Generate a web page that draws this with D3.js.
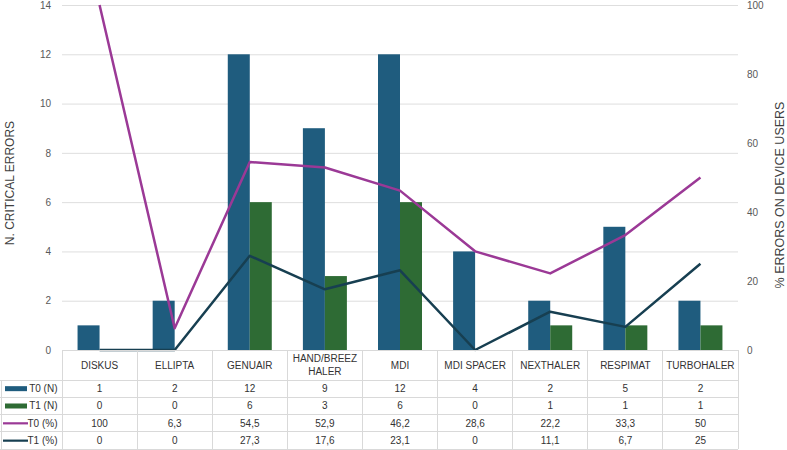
<!DOCTYPE html>
<html>
<head>
<meta charset="utf-8">
<script src="https://cdn.jsdelivr.net/npm/d3@7"></script>
<style>
  body { margin: 0; background: #fff; }
  svg { font-family: "Liberation Sans", Arial, sans-serif; display: block; }
</style>
</head>
<body>
<div id="chart"></div>
<script>
const categories = ["DISKUS", "ELLIPTA", "GENUAIR", "HAND/BREEZ HALER", "MDI", "MDI SPACER", "NEXTHALER", "RESPIMAT", "TURBOHALER"];
const t0N = [1, 2, 12, 9, 12, 4, 2, 5, 2];
const t1N = [0, 0, 6, 3, 6, 0, 1, 1, 1];
const t0Pct = [100, 6.3, 54.5, 52.9, 46.2, 28.6, 22.2, 33.3, 50];
const t1Pct = [0, 0, 27.3, 17.6, 23.1, 0, 11.1, 6.7, 25];
const leftTicks = [0, 2, 4, 6, 8, 10, 12, 14];
const rightTicks = [0, 20, 40, 60, 80, 100];

const width = 787;
const height = 450;
const plot = { left: 62, right: 738, top: 5, bottom: 350 };

const colours = {
    t0N: "#1f5c7e",
    t1N: "#2e6b34",
    t0Pct: "#9b3996",
    t1Pct: "#173f51",
    grid: "#dedede",
    text: "#404040"
};

const series = [
    { name: "T0 (N)", type: "bar", values: t0N, colour: colours.t0N },
    { name: "T1 (N)", type: "bar", values: t1N, colour: colours.t1N },
    { name: "T0 (%)", type: "line", values: t0Pct, colour: colours.t0Pct },
    { name: "T1 (%)", type: "line", values: t1Pct, colour: colours.t1Pct }
];

const locale = d3.formatLocale({ decimal: ",", thousands: ".", grouping: [3], currency: ["", ""] });
const fmt = locale.format("~g");

const x = d3.scaleBand(categories, [plot.left, plot.right]);
const groupWidth = 44;
const x1 = d3.scaleBand(["T0 (N)", "T1 (N)"], [0, groupWidth]);
const yLeft = d3.scaleLinear([0, 14], [plot.bottom, plot.top]);
const yRight = d3.scaleLinear([0, 100], [plot.bottom, plot.top]);

const svg = d3.create("svg")
    .attr("width", width)
    .attr("height", height);

// attach early so text can be measured for wrapping
document.getElementById("chart").append(svg.node());

// gridlines
svg.append("g")
    .attr("transform", `translate(${plot.left},0)`)
    .call(d3.axisLeft(yLeft).tickValues(leftTicks).tickSize(-(plot.right - plot.left)).tickFormat(""))
    .call(g => g.select(".domain").remove())
    .call(g => g.selectAll("line").attr("stroke", colours.grid));

// left axis labels
svg.append("g")
    .attr("transform", `translate(51,0)`)
    .call(d3.axisLeft(yLeft).tickValues(leftTicks).tickSize(0).tickPadding(0))
    .call(g => g.select(".domain").remove())
    .call(g => g.selectAll("text")
        .attr("font-size", "10px")
        .attr("font-family", "'Liberation Sans', Arial, sans-serif")
        .attr("fill", "#595959"));

// right axis labels
svg.append("g")
    .attr("transform", `translate(747,0)`)
    .call(d3.axisRight(yRight).tickValues(rightTicks).tickSize(0).tickPadding(0))
    .call(g => g.select(".domain").remove())
    .call(g => g.selectAll("text")
        .attr("font-size", "10px")
        .attr("font-family", "'Liberation Sans', Arial, sans-serif")
        .attr("fill", "#595959"));

// axis titles
svg.append("text")
    .attr("transform", "translate(14,183) rotate(-90)")
    .attr("text-anchor", "middle")
    .attr("font-size", "12px")
    .attr("fill", colours.text)
    .text("N. CRITICAL ERRORS");

svg.append("text")
    .attr("transform", "translate(784,195) rotate(-90)")
    .attr("text-anchor", "middle")
    .attr("font-size", "12.5px")
    .attr("fill", colours.text)
    .text("% ERRORS ON DEVICE USERS");

// bars
const barSeries = series.filter(s => s.type === "bar");
svg.append("g")
    .selectAll("g")
    .data(barSeries)
    .join("g")
    .attr("fill", s => s.colour)
    .selectAll("rect")
    .data(s => s.values.map((v, i) => ({ name: s.name, category: categories[i], value: v })))
    .join("rect")
    .attr("x", d => x(d.category) + (x.bandwidth() - groupWidth) / 2 + x1(d.name))
    .attr("width", x1.bandwidth())
    .attr("y", d => yLeft(d.value))
    .attr("height", d => yLeft(0) - yLeft(d.value));

// lines
const line = d3.line()
    .x((d, i) => x(categories[i]) + x.bandwidth() / 2)
    .y(d => yRight(d));

svg.append("g")
    .selectAll("path")
    .data(series.filter(s => s.type === "line"))
    .join("path")
    .attr("fill", "none")
    .attr("stroke", s => s.colour)
    .attr("stroke-width", 2.5)
    .attr("stroke-linejoin", "round")
    .attr("d", s => line(s.values));

// data table
const headerHeight = 30;
const rowHeight = 17.33;
const tableTop = plot.bottom;
const rowsTop = tableTop + headerHeight;
const tableBottom = rowsTop + rowHeight * series.length;

const table = svg.append("g")
    .attr("font-size", "10px")
    .attr("fill", "#333");

const border = table.append("g")
    .attr("stroke", "#d9d9d9")
    .attr("stroke-width", 1)
    .attr("shape-rendering", "crispEdges");

border.append("line")
    .attr("x1", plot.left).attr("x2", plot.right)
    .attr("y1", tableTop).attr("y2", tableTop);

border.selectAll(".hline")
    .data(d3.range(series.length + 1))
    .join("line")
    .attr("x1", 0).attr("x2", plot.right)
    .attr("y1", i => rowsTop + i * rowHeight)
    .attr("y2", i => rowsTop + i * rowHeight);

border.selectAll(".vline")
    .data(categories.concat(["end"]))
    .join("line")
    .attr("x1", (d, i) => plot.left + i * x.bandwidth())
    .attr("x2", (d, i) => plot.left + i * x.bandwidth())
    .attr("y1", tableTop).attr("y2", tableBottom);

border.append("line")
    .attr("x1", 1.5).attr("x2", 1.5)
    .attr("y1", rowsTop).attr("y2", tableBottom);

// header labels, wrapped to column width
table.selectAll(".header")
    .data(categories)
    .join("text")
    .attr("text-anchor", "middle")
    .attr("x", d => x(d) + x.bandwidth() / 2)
    .each(function (d) {
        const words = d.split(" ");
        const el = d3.select(this);
        el.text(d);
        let lines = [d];
        if (this.getComputedTextLength() > x.bandwidth() - 8 && words.length > 1) {
            lines = [words.slice(0, -1).join(" "), words[words.length - 1]];
        }
        el.text(null);
        const lh = 13.4;
        const y0 = tableTop + headerHeight / 2 - (lines.length - 1) * lh / 2;
        lines.forEach((l, i) => {
            el.append("tspan")
                .attr("x", x(d) + x.bandwidth() / 2)
                .attr("y", y0 + i * lh)
                .attr("dy", "0.35em")
                .text(l);
        });
    });

// rows
const rows = table.selectAll(".row")
    .data(series)
    .join("g")
    .attr("transform", (s, i) => `translate(0,${rowsTop + i * rowHeight + rowHeight / 2})`);

rows.each(function (s) {
    const g = d3.select(this);
    if (s.type === "bar") {
        g.append("rect")
            .attr("x", 5).attr("y", -2.5)
            .attr("width", 22).attr("height", 5)
            .attr("fill", s.colour);
    } else {
        g.append("line")
            .attr("x1", 3).attr("x2", 28)
            .attr("stroke", s.colour)
            .attr("stroke-width", 2.2);
    }
});

rows.append("text")
    .attr("x", 57.5)
    .attr("dy", "0.35em")
    .attr("text-anchor", "end")
    .text(s => s.name);

rows.selectAll(".val")
    .data(s => s.values)
    .join("text")
    .attr("x", (v, i) => x(categories[i]) + x.bandwidth() / 2)
    .attr("dy", "0.35em")
    .attr("text-anchor", "middle")
    .text(v => fmt(v));
</script>
</body>
</html>
